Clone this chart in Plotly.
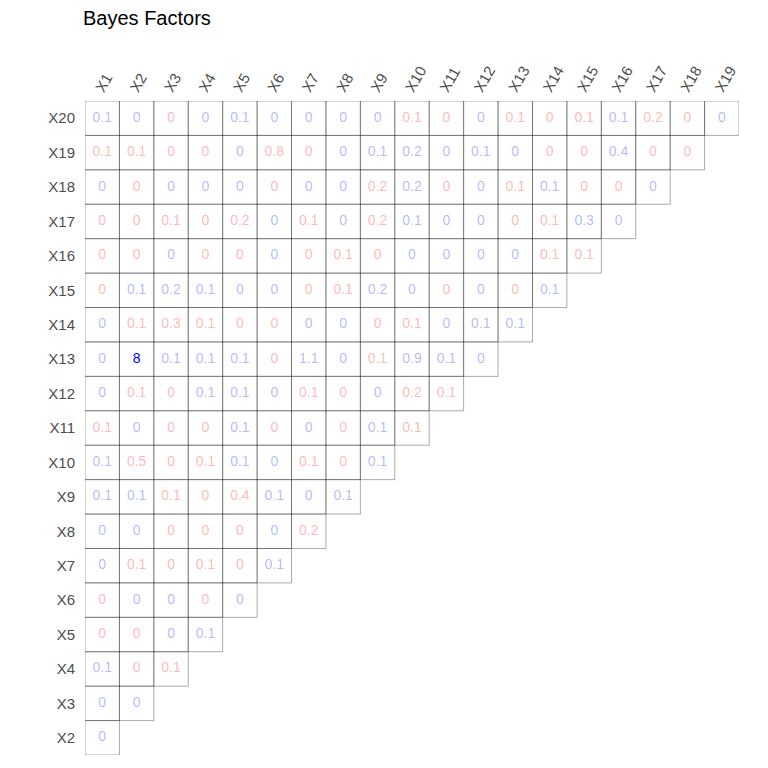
import plotly.graph_objects as go

columns = [f"X{i}" for i in range(1, 20)]
rows = [f"X{i}" for i in range(20, 1, -1)]  # top to bottom

# Bayes factor values, row X20 .. X2, columns X1 .. X(k-1)
bf_values = [
    [0.1, 0, 0, 0, 0.1, 0, 0, 0, 0, 0.1, 0, 0, 0.1, 0, 0.1, 0.1, 0.2, 0, 0],
    [0.1, 0.1, 0, 0, 0, 0.8, 0, 0, 0.1, 0.2, 0, 0.1, 0, 0, 0, 0.4, 0, 0],
    [0, 0, 0, 0, 0, 0, 0, 0, 0.2, 0.2, 0, 0, 0.1, 0.1, 0, 0, 0],
    [0, 0, 0.1, 0, 0.2, 0, 0.1, 0, 0.2, 0.1, 0, 0, 0, 0.1, 0.3, 0],
    [0, 0, 0, 0, 0, 0, 0, 0.1, 0, 0, 0, 0, 0, 0.1, 0.1],
    [0, 0.1, 0.2, 0.1, 0, 0, 0, 0.1, 0.2, 0, 0, 0, 0, 0.1],
    [0, 0.1, 0.3, 0.1, 0, 0, 0, 0, 0, 0.1, 0, 0.1, 0.1],
    [0, 8, 0.1, 0.1, 0.1, 0, 1.1, 0, 0.1, 0.9, 0.1, 0],
    [0, 0.1, 0, 0.1, 0.1, 0, 0.1, 0, 0, 0.2, 0.1],
    [0.1, 0, 0, 0, 0.1, 0, 0, 0, 0.1, 0.1],
    [0.1, 0.5, 0, 0.1, 0.1, 0, 0.1, 0, 0.1],
    [0.1, 0.1, 0.1, 0, 0.4, 0.1, 0, 0.1],
    [0, 0, 0, 0, 0, 0, 0.2],
    [0, 0.1, 0, 0.1, 0, 0.1],
    [0, 0, 0, 0, 0],
    [0, 0, 0, 0.1],
    [0.1, 0, 0.1],
    [0, 0],
    [0],
]

# sign of the association: "+" drawn blue, "-" drawn red
bf_signs = [
    ["+", "+", "-", "+", "+", "+", "+", "+", "+", "-", "-", "+", "-", "-", "-", "+", "-", "-", "+"],
    ["-", "-", "-", "-", "+", "-", "-", "+", "+", "+", "+", "+", "+", "-", "-", "+", "-", "-"],
    ["+", "-", "+", "+", "+", "-", "+", "+", "-", "+", "-", "+", "-", "+", "-", "-", "+"],
    ["-", "-", "-", "-", "-", "+", "-", "+", "-", "+", "+", "+", "-", "-", "+", "+"],
    ["-", "-", "+", "-", "-", "+", "-", "-", "-", "+", "+", "+", "+", "-", "-"],
    ["-", "+", "+", "+", "+", "+", "-", "-", "+", "+", "-", "+", "-", "+"],
    ["+", "-", "-", "-", "-", "-", "+", "+", "-", "-", "+", "+", "+"],
    ["+", "+", "+", "+", "+", "-", "+", "+", "-", "+", "+", "+"],
    ["+", "-", "-", "+", "+", "+", "-", "-", "+", "-", "-"],
    ["-", "+", "-", "-", "+", "-", "+", "-", "+", "-"],
    ["+", "-", "-", "-", "+", "+", "-", "-", "+"],
    ["+", "+", "-", "-", "-", "+", "+", "+"],
    ["+", "+", "-", "-", "-", "+", "-"],
    ["+", "-", "-", "-", "-", "+"],
    ["-", "+", "+", "-", "+"],
    ["-", "-", "+", "+"],
    ["+", "-", "-"],
    ["+", "+"],
    ["+"],
]

FONT = "Liberation Sans, Arial, sans-serif"

xs, ys, texts, colors = [], [], [], []
shapes = []
n = len(columns)
for r, (row_name, vals, sgns) in enumerate(zip(rows, bf_values, bf_signs)):
    yi = n - 1 - r  # category index from bottom
    for c, (v, s) in enumerate(zip(vals, sgns)):
        xs.append(columns[c])
        ys.append(row_name)
        texts.append(f"{v:g}")
        alpha = 1.0 if v >= 3 else 0.3
        base = "0,0,255" if s == "+" else "255,0,0"
        colors.append(f"rgba({base},{alpha})")
        shapes.append(dict(
            type="rect", xref="x", yref="y",
            x0=c - 0.5, x1=c + 0.5, y0=yi - 0.5, y1=yi + 0.5,
            line=dict(color="rgba(0,0,0,0.33)", width=1),
            fillcolor="rgba(0,0,0,0)", layer="below",
        ))

fig = go.Figure(go.Scatter(
    x=xs, y=ys, mode="text", text=texts,
    textfont=dict(color=colors, size=14, family=FONT),
    hoverinfo="skip", showlegend=False,
))

fig.update_layout(
    width=768, height=768,
    margin=dict(l=85, r=29, t=101, b=13),
    plot_bgcolor="white", paper_bgcolor="white",
    shapes=shapes,
    title=dict(text="Bayes Factors", x=83 / 768, xref="container", xanchor="left",
               y=1 - 18 / 768, yref="container", yanchor="middle",
               font=dict(size=20, color="black", family=FONT)),
    font=dict(family=FONT),
)
fig.update_xaxes(
    side="top", type="category", categoryorder="array", categoryarray=columns,
    range=[-0.5, n - 0.5], showgrid=False, zeroline=False, showline=False,
    tickangle=-60, ticks="", ticklabelshift=-5,
    tickfont=dict(size=15, color="#4d4d4d"),
)
fig.update_yaxes(
    type="category", categoryorder="array", categoryarray=rows[::-1],
    range=[-0.5, n - 0.5], showgrid=False, zeroline=False, showline=False,
    ticks="outside", ticklen=6, tickcolor="rgba(0,0,0,0)",
    tickfont=dict(size=15, color="#4d4d4d"),
)

fig.write_html("out.html")
